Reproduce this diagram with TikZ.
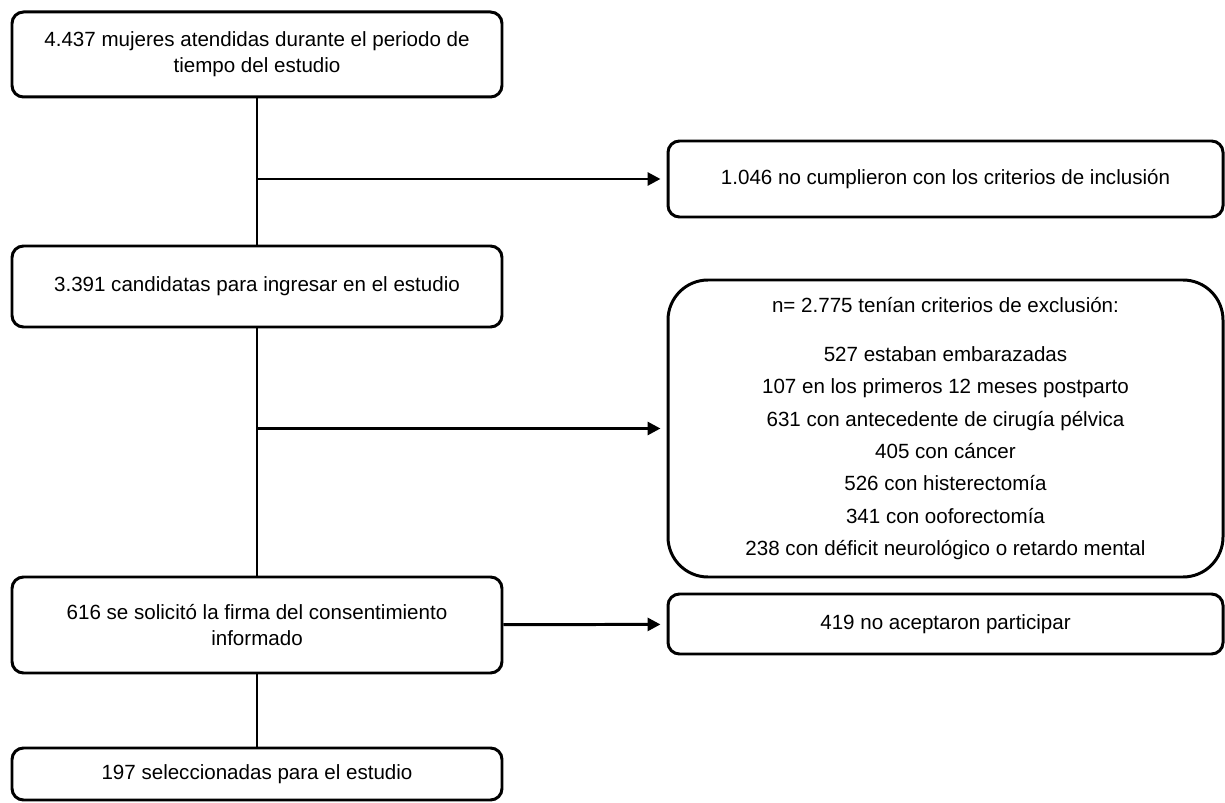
\documentclass[tikz,border=0pt]{standalone}
\usepackage{fontspec}
\setmainfont{Liberation Sans}
\usetikzlibrary{positioning}
\usetikzlibrary{arrows.meta}

\begin{document}
\begin{tikzpicture}[black, line width = 1.7pt,
        box/.style = {draw, rounded corners = 6.5pt, align = center,
            inner sep = 0pt, minimum width = 9.8cm,
            font = \fontsize{11.7pt}{15pt}\selectfont},
        sidebox/.style = {box, minimum width = 11.1cm},
        link/.style = {-{Triangle[length = 0.26cm, width = 0.26cm]},
            shorten >= 0.12cm},]
    \useasboundingbox[] (0,0) rectangle (24.5,-16.06);

    %\draw[help lines, opacity = 0.1] (0,-17) grid (25,0);

    \begin{scope}[on grid]

        \node (start) at (5.14,-1.09) [box, minimum height = 1.7cm]
            {4.437 mujeres atendidas durante el periodo de\\ tiempo del estudio};
        \node (cand) [box, minimum height = 1.62cm, below = 4.64 of start]
            {3.391 candidatas para ingresar en el estudio};
        \node (consent) [box, minimum height = 1.92cm, below = 6.77 of cand]
            {616 se solicitó la firma del consentimiento\\ informado};
        \node (sel) [box, minimum height = 1.04cm, below = 2.98 of consent]
            {197 seleccionadas para el estudio};

        \node (incl) [sidebox, minimum height = 1.52cm, below right = 2.49 and 13.77 of start]
            {1.046 no cumplieron con los criterios de inclusión};
        \node (excl) [sidebox, minimum height = 5.94cm, rounded corners = 0.8cm,
            font = \fontsize{11.7pt}{18.4pt}\selectfont,
            below right = 2.84 and 13.77 of cand]
            {n= 2.775 tenían criterios de exclusión:\\[9.7pt]
             527 estaban embarazadas\\
             107 en los primeros 12 meses postparto\\
             631 con antecedente de cirugía pélvica\\
             405 con cáncer\\
             526 con histerectomía\\
             341 con ooforectomía\\
             238 con déficit neurológico o retardo mental};
        \node (rech) [sidebox, minimum height = 1.2cm, right = 13.77 of consent, yshift = 0.02cm]
            {419 no aceptaron participar};

        \coordinate (j1) at (start.south |- incl.west);
        \coordinate (j2) at (start.south |- excl.west);

        \draw (start) -- (cand);
        \draw (cand) -- (consent);
        \draw (consent) -- (sel);

        \draw[link] (j1) -- (incl);
        \draw[link] (j2) -- (excl);
        \draw[link] (consent) -- (rech);
    \end{scope}

\end{tikzpicture}
\end{document}
